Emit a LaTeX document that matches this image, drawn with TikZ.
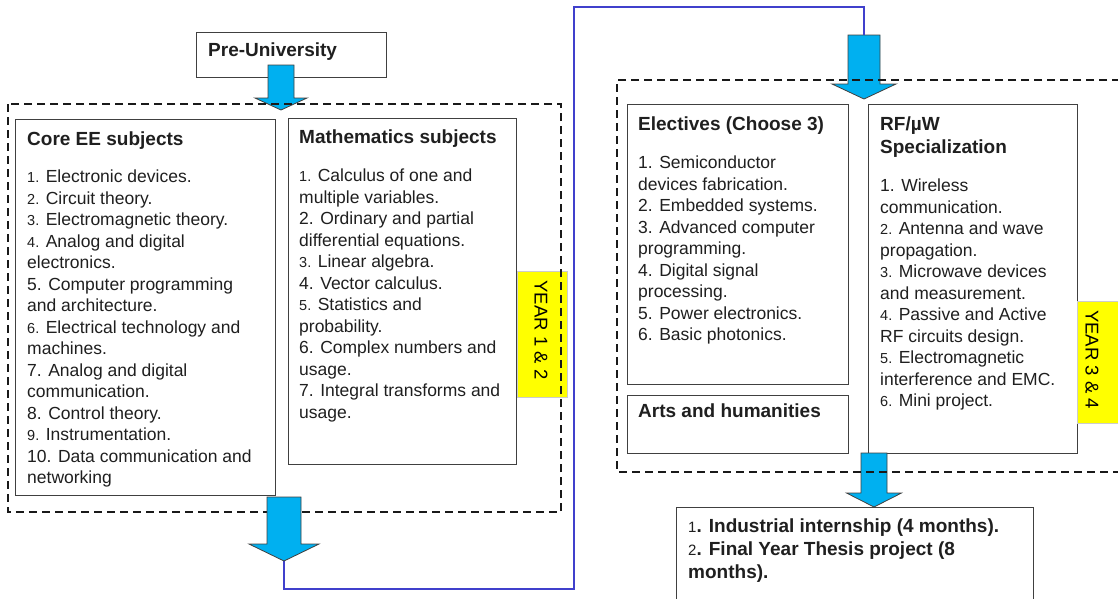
\documentclass[tikz,border=0pt]{standalone}
\usepackage{fontspec}
\setmainfont{Liberation Sans}
\definecolor{cyanfill}{RGB}{0,176,240}
\definecolor{linkblue}{RGB}{64,64,204}
\definecolor{yelfill}{RGB}{255,255,0}
\newcommand\tp{\rule{0pt}{15pt}}
\newcommand\nm[1]{{\fontsize{14.5}{21.5}\selectfont\mdseries #1}}
\newcommand\barrow[7]{%
  \draw[blockarr] (#2-#6,#3) -- (#2+#6,#3) -- (#2+#6,#4) -- (#2+#7,#4) -- (#2,#5) -- (#2-#7,#4) -- (#2-#6,#4) -- cycle;
  \coordinate (#1top) at (#2,#3);
  \coordinate (#1tip) at (#2,#5);}
\tikzset{
  box/.style={draw=black!75, line width=0.9pt, anchor=north west, inner sep=0pt},
  txt/.style={anchor=north west, inner sep=0pt, align=left, text=black!88},
  body/.style={txt, font=\fontsize{17.5}{21.5}\selectfont},
  head/.style={txt, font=\fontsize{19}{23}\selectfont\bfseries},
  dashbox/.style={draw=black!90, line width=1.8pt, dash pattern=on 8pt off 5pt},
  blockarr/.style={fill=cyanfill, draw=black!75, line width=0.8pt, line join=miter},
  link/.style={draw=linkblue, line width=1.8pt},
  yel/.style={fill=yelfill, draw=black!20, line width=0.4pt, anchor=north west, inner sep=0pt},
  yeartxt/.style={rotate=-90, inner sep=0pt, text=black, font=\fontsize{18.5}{20}\selectfont},
}
\begin{document}
\begin{tikzpicture}[x=1pt,y=-1pt]
\useasboundingbox[fill=white] (0,0) rectangle (1118,598);

% boxes
\node[box, minimum width=190pt, minimum height=45pt] (pre) at (196,32) {};
\node[box, minimum width=260pt, minimum height=376pt] (core) at (15,119) {};
\node[box, minimum width=228pt, minimum height=346pt] (math) at (288,118) {};
\node[box, minimum width=221pt, minimum height=280pt] (elec) at (627,104) {};
\node[box, minimum width=209pt, minimum height=349pt] (rf) at (868,104) {};
\node[box, minimum width=221pt, minimum height=58pt] (arts) at (627,395) {};
\node[box, minimum width=357pt, minimum height=110pt] (final) at (676,507) {};

% yellow year labels
\node[yel, minimum width=50pt, minimum height=126pt] (yonetwo) at (517,271) {};
\node[yel, minimum width=45pt, minimum height=122pt] (ythreefour) at (1077,301) {};

% block arrows
\barrow{aone}{281}{65}{98}{110}{13}{26}
\barrow{athree}{864}{35}{84}{99}{16}{32}
\barrow{afour}{874}{453}{493}{507}{13}{27.5}
\coordinate (atwotip) at (284,561);
\coordinate (lowcorner) at (574,589);
\coordinate (highcorner) at (574,7);

% connector from year 1&2 to year 3&4
\draw[link] (atwotip) |- (lowcorner) -- (highcorner) -| (athreetop);

% dashed year frames
\draw[dashbox] (8,104) rectangle (561,512);
\draw[dashbox] (1120,80) -- (617,80) -- (617,472) -- (1120,472);

\barrow{atwo}{284}{497}{544}{561}{17}{35}

% texts
\node[head] (pretxt) at (208,56.5-15) {\tp{}Pre-University};

\node[head] (corehd) at (27,145-15) {\tp{}Core EE subjects};
\node[body] (coretxt) at (27,182.5-15) {\tp{}\nm{1.} Electronic devices.\\
\nm{2.} Circuit theory.\\
\nm{3.} Electromagnetic theory.\\
\nm{4.} Analog and digital\\
electronics.\\
5. Computer programming\\
and architecture.\\
\nm{6.} Electrical technology and\\
machines.\\
7. Analog and digital\\
communication.\\
8. Control theory.\\
\nm{9.} Instrumentation.\\
10. Data communication and\\
networking};

\node[head] (mathhd) at (299,143.5-15) {\tp{}Mathematics subjects};
\node[body] (mathtxt) at (299,181.5-15) {\tp{}\nm{1.} Calculus of one and\\
multiple variables.\\
2. Ordinary and partial\\
differential equations.\\
\nm{3.} Linear algebra.\\
4. Vector calculus.\\
\nm{5.} Statistics and\\
probability.\\
6. Complex numbers and\\
usage.\\
7. Integral transforms and\\
usage.};

\node[head] (elechd) at (638,130-15) {\tp{}Electives (Choose 3)};
\node[body] (electxt) at (638,168.5-15) {\tp{}1. Semiconductor\\
devices fabrication.\\
2. Embedded systems.\\
3. Advanced computer\\
programming.\\
4. Digital signal\\
processing.\\
5. Power electronics.\\
6. Basic photonics.};

\node[head] (rfhd) at (880,130-15) {\tp{}RF/µW\\Specialization};
\node[body] (rftxt) at (880,191.7-15) {\tp{}1. Wireless\\
communication.\\
\nm{2.} Antenna and wave\\
propagation.\\
\nm{3.} Microwave devices\\
and measurement.\\
\nm{4.} Passive and Active\\
RF circuits design.\\
\nm{5.} Electromagnetic\\
interference and EMC.\\
\nm{6.} Mini project.};

\node[head] (artstxt) at (638,417-15) {\tp{}Arts and humanities};

\node[txt, font=\fontsize{19}{23}\selectfont\bfseries] (finaltxt) at (688,532.3-15) {\tp{}{\fontsize{15}{23}\selectfont\mdseries 1}. Industrial internship (4 months).\\
{\fontsize{15}{23}\selectfont\mdseries 2}. Final Year Thesis project (8\\
months).};

\node[yeartxt] (yonetwotxt) at (541,330) {YEAR 1 \& 2};
\node[yeartxt] (ythreefourtxt) at (1092,359.5) {YEAR 3 \& 4};
\end{tikzpicture}
\end{document}
